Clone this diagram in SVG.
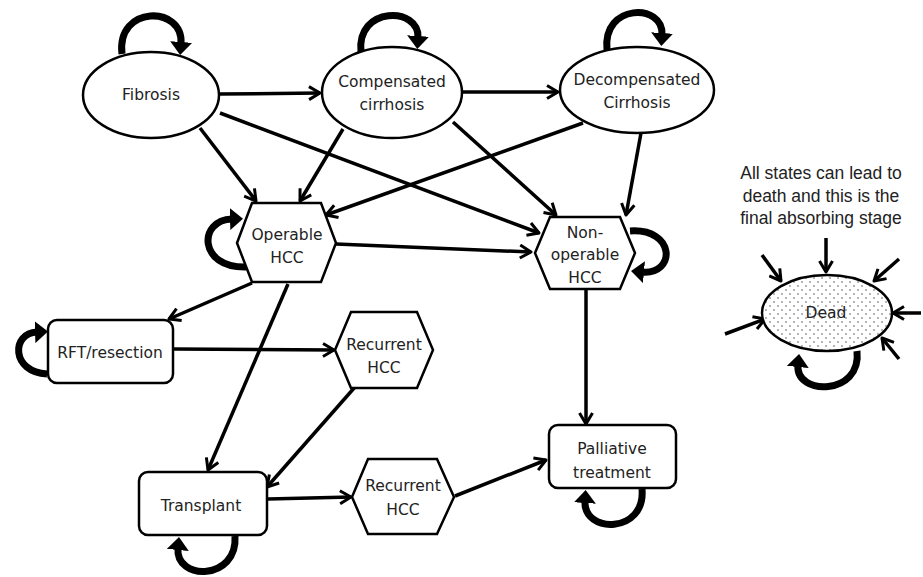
<svg xmlns="http://www.w3.org/2000/svg" width="923" height="577" viewBox="0 0 923 577">
<style>
.n{fill:#fff;stroke:#000;stroke-width:2.5}
.t{font-family:"DejaVu Sans",sans-serif;font-size:15.5px;fill:#222;text-anchor:middle}
.c{fill:none;stroke:#000;stroke-width:3.5;marker-end:url(#v)}
.l{fill:none;stroke:#000;stroke-width:7;marker-end:url(#h)}
.a{font-family:"Liberation Sans",sans-serif;font-size:17.5px;fill:#222;text-anchor:middle}
</style>
<defs>
<marker id="v" viewBox="0 0 16 16" refX="13" refY="8" markerWidth="16" markerHeight="16" markerUnits="userSpaceOnUse" orient="auto">
<path d="M2,1.5 L13,8 L2,14.5" fill="none" stroke="#000" stroke-width="3" stroke-linejoin="round"/>
</marker>
<marker id="h" viewBox="0 0 14 22" refX="2" refY="11" markerWidth="14" markerHeight="22" markerUnits="userSpaceOnUse" orient="auto">
<path d="M0,0 L13,11 L0,22 z" fill="#000"/>
</marker>
<pattern id="dots" width="8" height="8" patternUnits="userSpaceOnUse">
<rect width="8" height="8" fill="#fff"/>
<circle cx="2" cy="2" r="0.8" fill="#555"/>
<circle cx="6" cy="6" r="0.8" fill="#555"/>
</pattern>
</defs>

<g id="connectors">
<path class="c" d="M219 94 L320 93"/>
<path class="c" d="M462 92 L558 92"/>
<path class="c" d="M200 128 L256 201"/>
<path class="c" d="M343 129 L300 201"/>
<path class="c" d="M583 123 L326 215"/>
<path class="c" d="M220 113 L539 233"/>
<path class="c" d="M453 122 L556 215"/>
<path class="c" d="M641 133 L626 215"/>
<path class="c" d="M336 244 L531 252"/>
<path class="c" d="M252 283 L169 319"/>
<path class="c" d="M288 284 L208 470"/>
<path class="c" d="M174 349 L334 350"/>
<path class="c" d="M355 387 L267 487"/>
<path class="c" d="M586 289 L586 424"/>
<path class="c" d="M268 499 L351 497"/>
<path class="c" d="M455 496 L546 460"/>
<path class="c" d="M826 238 L826 272"/>
<path class="c" d="M762 255 L781 281"/>
<path class="c" d="M899 259 L874 281"/>
<path class="c" d="M921 313 L893 313"/>
<path class="c" d="M899 359 L882 338"/>
<path class="c" d="M725 334 L765 319"/>
<path class="l" d="M122 54 C116 5, 184 5, 181 44"/>
<path class="l" d="M361 52 C356 6, 420 6, 418 38"/>
<path class="l" d="M607 50 C602 3, 664 3, 662 35"/>
<path class="l" d="M246 267 C198 268, 198 220, 232 219"/>
<path class="l" d="M630 231 C676 228, 676 275, 642 272"/>
<path class="l" d="M47 374 C11 372, 11 333, 37 332"/>
<path class="l" d="M235 536 C238 581, 175 581, 178 548"/>
<path class="l" d="M642 489 C646 534, 583 534, 585 501"/>
<path class="l" d="M857 351 C862 396, 795 396, 798 365"/>
</g>

<g id="fibrosis">
<ellipse class="n" cx="151" cy="95" rx="68" ry="43"/>
<text class="t" x="151" y="100">Fibrosis</text>
</g>
<g id="compensated">
<ellipse class="n" cx="392" cy="92.5" rx="70" ry="45.5"/>
<text class="t" x="392" y="87">Compensated</text>
<text class="t" x="392" y="110">cirrhosis</text>
</g>
<g id="decompensated">
<ellipse class="n" cx="637" cy="90" rx="77" ry="43"/>
<text class="t" x="637" y="85">Decompensated</text>
<text class="t" x="637" y="108">Cirrhosis</text>
</g>
<g id="operable">
<polygon class="n" points="237,243 252,203 321,203 336,243 321,282 252,282"/>
<text class="t" x="287" y="240">Operable</text>
<text class="t" x="287" y="263">HCC</text>
</g>
<g id="nonoperable">
<polygon class="n" points="535,253 550,217 620,217 635,253 620,289 550,289"/>
<text class="t" x="585" y="238">Non-</text>
<text class="t" x="585" y="260">operable</text>
<text class="t" x="585" y="283">HCC</text>
</g>
<g id="rft">
<rect class="n" x="48" y="320" width="125" height="63" rx="9"/>
<text class="t" x="110" y="358">RFT/resection</text>
</g>
<g id="recurrent1">
<polygon class="n" points="335,350 351,312 417,312 433,350 417,388 351,388"/>
<text class="t" x="384" y="350">Recurrent</text>
<text class="t" x="384" y="373">HCC</text>
</g>
<g id="transplant">
<rect class="n" x="139" y="472" width="128" height="63" rx="9"/>
<text class="t" x="201" y="511">Transplant</text>
</g>
<g id="recurrent2">
<polygon class="n" points="352,497 368,459 437,459 454,497 437,534 368,534"/>
<text class="t" x="403" y="491">Recurrent</text>
<text class="t" x="403" y="515">HCC</text>
</g>
<g id="palliative">
<rect class="n" x="549" y="425" width="127" height="63" rx="9"/>
<text class="t" x="612" y="454">Palliative</text>
<text class="t" x="612" y="478">treatment</text>
</g>
<g id="dead">
<ellipse cx="827" cy="313" rx="65" ry="38" fill="url(#dots)" stroke="#000" stroke-width="2.5"/>
<text class="t" x="826" y="318">Dead</text>
</g>
<g id="note">
<text class="a" x="821" y="179">All states can lead to</text>
<text class="a" x="821" y="202">death and this is the</text>
<text class="a" x="821" y="224">final absorbing stage</text>
</g>
</svg>
